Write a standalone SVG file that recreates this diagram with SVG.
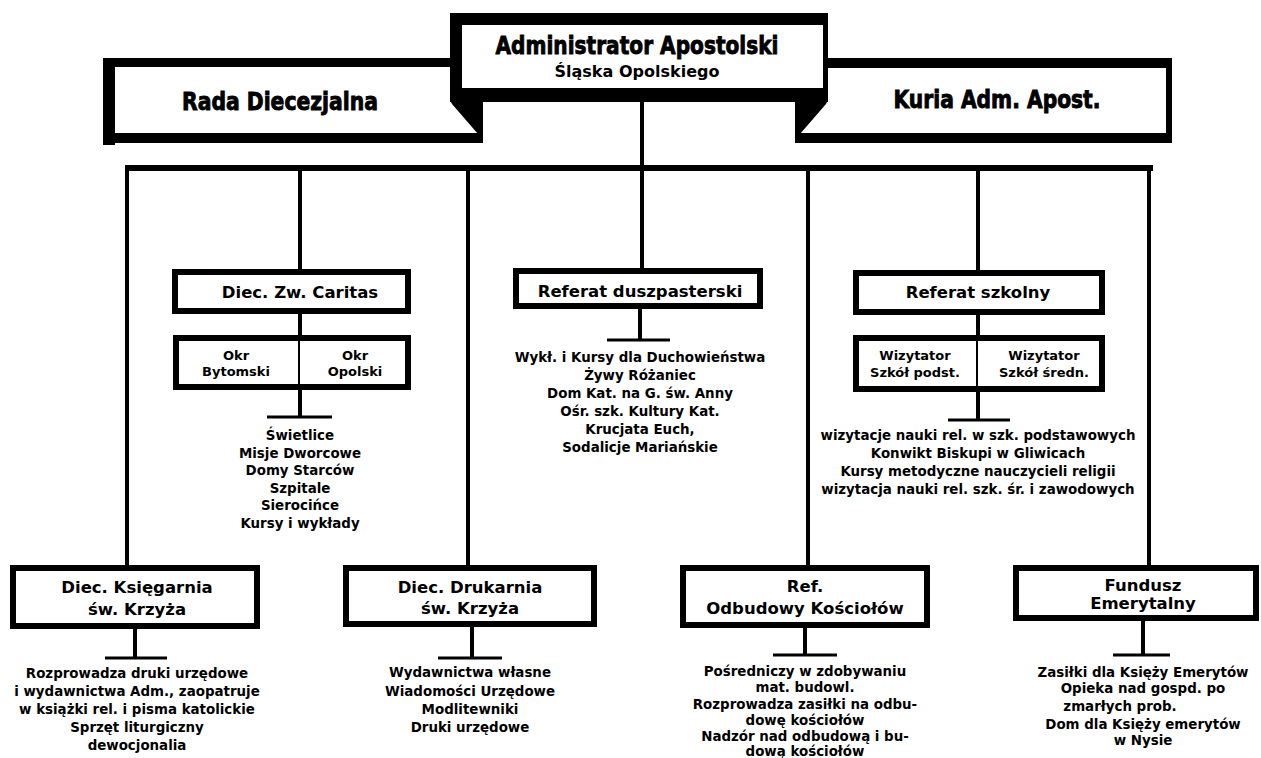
<svg xmlns="http://www.w3.org/2000/svg" width="1261" height="758" viewBox="0 0 1261 758">
<style>
.blk{fill:#000}
.box{fill:#fff;stroke:#000;stroke-width:6}
.div{stroke:#000;stroke-width:2}
.ln{stroke:#000;stroke-width:4;fill:none}
.bar{stroke:#000;stroke-width:3;fill:none}
.hd{font-family:"DejaVu Sans","Liberation Sans",sans-serif;font-weight:bold;text-anchor:middle;fill:#000;stroke:#000;stroke-width:0.9}
.t{font-family:"DejaVu Sans","Liberation Sans",sans-serif;font-weight:bold;font-size:16.5px;text-anchor:middle;fill:#000}
.m{font-family:"DejaVu Sans","Liberation Sans",sans-serif;font-weight:bold;font-size:13px;text-anchor:middle;fill:#000}
.s{font-family:"DejaVu Sans","Liberation Sans",sans-serif;font-weight:bold;font-size:13.4px;text-anchor:middle;fill:#000}
</style>
<rect width="1261" height="758" fill="#fff"/>

<g id="rada">
<rect class="blk" x="103" y="58" width="350" height="9"/>
<rect class="blk" x="103" y="58" width="12" height="87"/>
<rect class="blk" x="103" y="133" width="380" height="10"/>
<text class="hd" x="280" y="110" font-size="24" textLength="196" lengthAdjust="spacingAndGlyphs">Rada Diecezjalna</text>
</g>

<g id="kuria">
<rect class="blk" x="826" y="58" width="346" height="10"/>
<rect class="blk" x="1166" y="58" width="6" height="85"/>
<rect class="blk" x="795" y="133" width="377" height="10"/>
<text class="hd" x="997" y="108" font-size="24" textLength="207" lengthAdjust="spacingAndGlyphs">Kuria Adm. Apost.</text>
</g>

<g id="administrator">
<rect class="blk" x="450" y="13" width="378" height="89"/>
<rect fill="#fff" x="462" y="25" width="361" height="63"/>
<polygon class="blk" points="450,100 483,100 483,143 478,143 478,134 452,104"/>
<polygon class="blk" points="828,100 795,100 795,143 800,143 800,134 826,104"/>
<text class="hd" x="637" y="54" font-size="25" textLength="283" lengthAdjust="spacingAndGlyphs">Administrator Apostolski</text>
<text class="t" x="637" y="77" textLength="165" lengthAdjust="spacingAndGlyphs">Śląska Opolskiego</text>
</g>

<g id="connectors">
<rect class="blk" x="125" y="165" width="1028" height="6"/>
<line class="ln" x1="642" y1="100" x2="642" y2="270"/>
<line class="ln" x1="127" y1="168" x2="127" y2="566"/>
<line class="ln" x1="300" y1="168" x2="300" y2="271"/>
<line class="ln" x1="468" y1="168" x2="468" y2="566"/>
<line class="ln" x1="808" y1="168" x2="808" y2="566"/>
<line class="ln" x1="978" y1="168" x2="978" y2="271"/>
<line class="ln" x1="1149" y1="168" x2="1149" y2="566"/>
<line class="ln" x1="300" y1="312" x2="300" y2="337"/>
<line class="ln" x1="300" y1="389" x2="300" y2="417"/>
<line class="bar" x1="267" y1="417" x2="332" y2="417"/>
<line class="ln" x1="640" y1="307" x2="640" y2="340"/>
<line class="bar" x1="607" y1="340" x2="670" y2="340"/>
<line class="ln" x1="978" y1="313" x2="978" y2="337"/>
<line class="ln" x1="978" y1="390" x2="978" y2="420"/>
<line class="bar" x1="948" y1="420" x2="1010" y2="420"/>
<line class="ln" x1="135" y1="628" x2="135" y2="658"/>
<line class="bar" x1="105" y1="658" x2="167" y2="658"/>
<line class="ln" x1="472" y1="625" x2="472" y2="658"/>
<line class="bar" x1="438" y1="658" x2="502" y2="658"/>
<line class="ln" x1="805" y1="627" x2="805" y2="655"/>
<line class="bar" x1="773" y1="655" x2="837" y2="655"/>
<line class="ln" x1="1143" y1="620" x2="1143" y2="655"/>
<line class="bar" x1="1113" y1="655" x2="1170" y2="655"/>
</g>

<g id="caritas">
<rect class="box" x="175" y="272" width="233" height="39" stroke-width="5"/>
<text class="t" x="300" y="298" font-size="17.5">Diec. Zw. Caritas</text>
</g>

<g id="okregi">
<rect class="box" x="176" y="338" width="232" height="49"/>
<line class="div" x1="299" y1="340" x2="299" y2="385"/>
<text class="m" x="236" y="360">Okr</text>
<text class="m" x="236" y="376">Bytomski</text>
<text class="m" x="355" y="360">Okr</text>
<text class="m" x="355" y="376">Opolski</text>
</g>

<g id="caritas-list">
<text class="s" x="300" y="440">Świetlice</text>
<text class="s" x="300" y="458">Misje Dworcowe</text>
<text class="s" x="300" y="475">Domy Starców</text>
<text class="s" x="300" y="493">Szpitale</text>
<text class="s" x="300" y="510">Sierocińce</text>
<text class="s" x="300" y="528">Kursy i wykłady</text>
</g>

<g id="referat-duszpasterski">
<rect class="box" x="516" y="271" width="244" height="35"/>
<text class="t" x="640" y="297">Referat duszpasterski</text>
</g>

<g id="duszpasterski-list">
<text class="s" x="640" y="362">Wykł. i Kursy dla Duchowieństwa</text>
<text class="s" x="640" y="380">Żywy Różaniec</text>
<text class="s" x="640" y="398">Dom Kat. na G. św. Anny</text>
<text class="s" x="640" y="416">Ośr. szk. Kultury Kat.</text>
<text class="s" x="640" y="434">Krucjata Euch,</text>
<text class="s" x="640" y="452">Sodalicje Mariańskie</text>
</g>

<g id="referat-szkolny">
<rect class="box" x="856" y="273" width="246" height="39"/>
<text class="t" x="978" y="298">Referat szkolny</text>
</g>

<g id="wizytatorzy">
<rect class="box" x="856" y="338" width="246" height="51"/>
<line class="div" x1="977" y1="340" x2="977" y2="387"/>
<text class="m" x="915" y="360">Wizytator</text>
<text class="m" x="915" y="377">Szkół podst.</text>
<text class="m" x="1044" y="360">Wizytator</text>
<text class="m" x="1044" y="377">Szkół średn.</text>
</g>

<g id="szkolny-list">
<text class="s" x="978" y="440">wizytacje nauki rel. w szk. podstawowych</text>
<text class="s" x="978" y="458">Konwikt Biskupi w Gliwicach</text>
<text class="s" x="978" y="476">Kursy metodyczne nauczycieli religii</text>
<text class="s" x="978" y="494">wizytacja nauki rel. szk. śr. i zawodowych</text>
</g>

<g id="ksiegarnia">
<rect class="box" x="13" y="568" width="244" height="58"/>
<text class="t" x="137" y="593">Diec. Księgarnia</text>
<text class="t" x="137" y="615">św. Krzyża</text>
</g>

<g id="ksiegarnia-list">
<text class="s" x="137" y="678">Rozprowadza druki urzędowe</text>
<text class="s" x="137" y="696">i wydawnictwa Adm., zaopatruje</text>
<text class="s" x="137" y="714">w książki rel. i pisma katolickie</text>
<text class="s" x="137" y="732">Sprzęt liturgiczny</text>
<text class="s" x="137" y="750">dewocjonalia</text>
</g>

<g id="drukarnia">
<rect class="box" x="346" y="568" width="248" height="56"/>
<text class="t" x="470" y="593">Diec. Drukarnia</text>
<text class="t" x="470" y="614">św. Krzyża</text>
</g>

<g id="drukarnia-list">
<text class="s" x="470" y="677">Wydawnictwa własne</text>
<text class="s" x="470" y="696">Wiadomości Urzędowe</text>
<text class="s" x="470" y="714">Modlitewniki</text>
<text class="s" x="470" y="732">Druki urzędowe</text>
</g>

<g id="odbudowa">
<rect class="box" x="683" y="568" width="244" height="57"/>
<text class="t" x="805" y="592">Ref.</text>
<text class="t" x="805" y="614">Odbudowy Kościołów</text>
</g>

<g id="odbudowa-list">
<text class="s" x="805" y="676">Pośredniczy w zdobywaniu</text>
<text class="s" x="805" y="692">mat. budowl.</text>
<text class="s" x="805" y="709">Rozprowadza zasiłki na odbu-</text>
<text class="s" x="805" y="725">dowę kościołów</text>
<text class="s" x="805" y="741">Nadzór nad odbudową i bu-</text>
<text class="s" x="805" y="756">dową kościołów</text>
</g>

<g id="fundusz">
<rect class="box" x="1016" y="568" width="240" height="50"/>
<text class="t" x="1143" y="591">Fundusz</text>
<text class="t" x="1143" y="609">Emerytalny</text>
</g>

<g id="fundusz-list">
<text class="s" x="1143" y="677">Zasiłki dla Księży Emerytów</text>
<text class="s" x="1143" y="693">Opieka nad gospd. po</text>
<text class="s" x="1120" y="711">zmarłych prob.</text>
<text class="s" x="1143" y="729">Dom dla Księży emerytów</text>
<text class="s" x="1143" y="745">w Nysie</text>
</g>
</svg>
